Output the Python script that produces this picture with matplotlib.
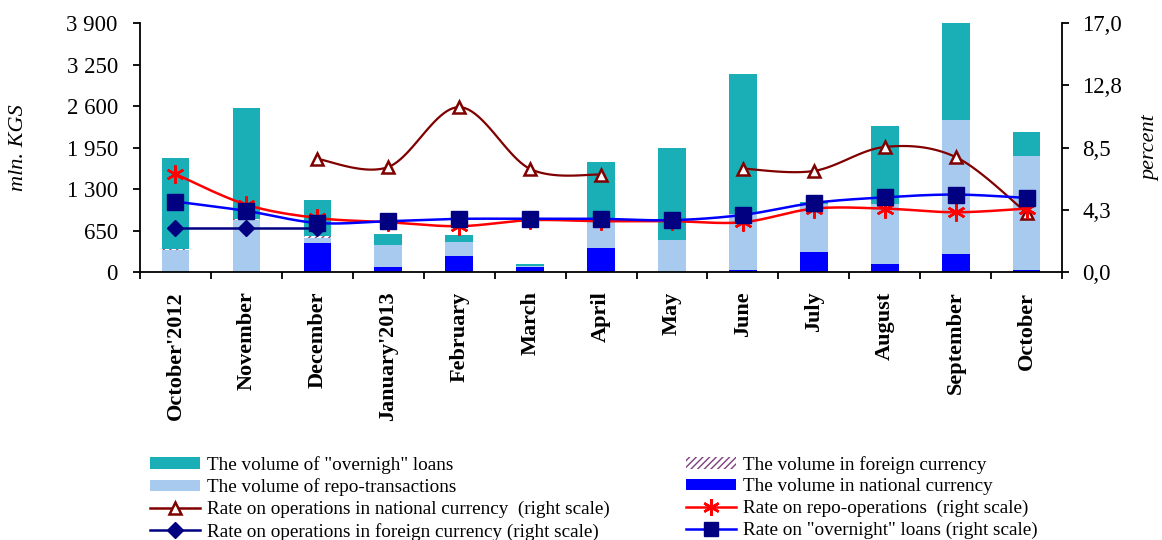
import numpy as np
import matplotlib
matplotlib.use("Agg")
from matplotlib import pyplot as plt
from matplotlib.patches import Patch
from matplotlib.lines import Line2D

plt.rcParams["font.family"] = "Liberation Serif"

months = ["October'2012", "November", "December", "January'2013", "February",
          "March", "April", "May", "June", "July", "August", "September", "October"]

# volumes, mln. KGS (stack segments)
vol_national = [0, 0, 455, 85, 260, 75, 385, 0, 40, 320, 135, 290, 40]
vol_repo = [345, 815, 80, 340, 220, 20, 465, 510, 877, 743, 938, 2096, 1783]
vol_foreign = [25, 20, 25, 0, 0, 0, 0, 0, 0, 0, 0, 0, 0]
vol_overnight = [1420, 1740, 575, 170, 95, 40, 880, 1440, 2190, 42, 1220, 1515, 375]

# rates, percent
rate_national = [np.nan, np.nan, 7.73, 7.18, 11.27, 7.05, 6.66, np.nan, 7.07, 6.91, 8.55, 7.86, 4.05]
rate_repo = [6.70, 4.61, 3.70, 3.41, 3.14, 3.55, 3.48, 3.48, 3.41, 4.34, 4.34, 4.09, 4.34]
rate_foreign = [3.0, 3.0, 3.0, np.nan, np.nan, np.nan, np.nan, np.nan, np.nan, np.nan, np.nan, np.nan, np.nan]
rate_overnight = [4.82, 4.18, 3.36, 3.48, 3.64, 3.64, 3.64, 3.55, 3.91, 4.73, 5.11, 5.30, 5.07]

left_ticks = [0, 650, 1300, 1950, 2600, 3250, 3900]
right_ticks = [0, 4.25, 8.5, 12.75, 17.0]
right_labels = ["0,0", "4,3", "8,5", "12,8", "17,0"]

c_overnight = "#1aafb6"
c_repo = "#a8caef"
c_national = "#0000ff"
c_foreign = "#7f3f7f"
c_rnat = "#800000"
c_rrepo = "#ff0000"
c_navy = "#000080"


def smooth(xs, ys, n=24):
    # catmull-rom through the points, split at gaps
    xs = np.asarray(xs, float)
    ys = np.asarray(ys, float)
    out = []
    ok = ~np.isnan(ys)
    segs = []
    cur = []
    for i in range(len(ys)):
        if ok[i]:
            cur.append(i)
        else:
            if cur:
                segs.append(cur)
            cur = []
    if cur:
        segs.append(cur)
    for seg in segs:
        px = xs[seg]
        py = ys[seg]
        if len(seg) < 2:
            continue
        sx, sy = [], []
        for i in range(len(seg) - 1):
            p0 = (px[max(i - 1, 0)], py[max(i - 1, 0)])
            p1 = (px[i], py[i])
            p2 = (px[i + 1], py[i + 1])
            p3 = (px[min(i + 2, len(seg) - 1)], py[min(i + 2, len(seg) - 1)])
            t = np.linspace(0, 1, n)
            for k in range(2):
                a, b, c, d = p0[k], p1[k], p2[k], p3[k]
                v = 0.5 * (2 * b + (-a + c) * t + (2 * a - 5 * b + 4 * c - d) * t ** 2
                           + (-a + 3 * b - 3 * c + d) * t ** 3)
                (sx if k == 0 else sy).extend(v)
        out.append((np.array(sx), np.array(sy)))
    return out


x = np.arange(len(months))
w = 0.39

fig = plt.figure(figsize=(11.62, 5.4), dpi=100)
ax = fig.add_axes([0.1205, 0.496, 0.7935, 0.461])

b1 = np.array(vol_national, float)
b2 = b1 + np.array(vol_repo, float)
b3 = b2 + np.array(vol_foreign, float)
ax.bar(x, vol_national, w, color=c_national, zorder=2)
ax.bar(x, vol_repo, w, bottom=b1, color=c_repo, zorder=2)
ax.bar(x, vol_foreign, w, bottom=b2, color="white", edgecolor=c_foreign,
       hatch="/////", linewidth=0, zorder=2)
ax.bar(x, vol_overnight, w, bottom=b3, color=c_overnight, zorder=2)

ax.set_xlim(-0.5, len(months) - 0.5)
ax.set_ylim(0, 3900)
ax.set_yticks(left_ticks)
ax.set_yticklabels([f"{v:,}".replace(",", " ") for v in left_ticks], fontsize=16.5)
ax.set_xticks(x)
ax.set_xticklabels(months, rotation=90, fontsize=16, fontweight="bold")
ax.tick_params(axis="x", which="major", length=0, pad=14)
ax.set_xticks(np.arange(-0.5, len(months), 1.0), minor=True)
ax.tick_params(axis="x", which="minor", length=5, width=1.3, direction="out")
ax.tick_params(axis="y", length=5, width=1.3, direction="out", pad=11)
ax.spines["top"].set_visible(False)
ax.spines["right"].set_visible(False)
for s in ["left", "bottom"]:
    ax.spines[s].set_linewidth(1.3)
ax.set_ylabel("mln. KGS", fontsize=16, style="italic")
ax.yaxis.set_label_coords(-0.1215, 0.5)

ax2 = ax.twinx()
ax2.set_ylim(0, 17)
ax2.set_yticks(right_ticks)
ax2.set_yticklabels(right_labels, fontsize=16.5)
ax2.tick_params(axis="y", length=5, width=1.3, direction="out", pad=9.5)
ax2.spines["top"].set_visible(False)
ax2.spines["right"].set_linewidth(1.3)
ax2.spines["left"].set_visible(False)
ax2.spines["bottom"].set_visible(False)
ax2.set_ylabel("percent", fontsize=16, style="italic")
ax2.yaxis.set_label_coords(1.086, 0.5)

for sx, sy in smooth(x, rate_national):
    ax2.plot(sx, sy, color=c_rnat, lw=1.6, zorder=3)
ax2.plot(x, rate_national, ls="none", marker="^", ms=9, mfc="white", mec=c_rnat,
         mew=1.8, zorder=4)

for sx, sy in smooth(x, rate_repo):
    ax2.plot(sx, sy, color=c_rrepo, lw=1.8, zorder=3)
ax2.plot(x, rate_repo, ls="none", marker=(6, 2, 0), ms=13, mec=c_rrepo, mew=1.8, zorder=4)

ax2.plot(x, rate_foreign, color=c_navy, lw=1.8, marker="D", ms=8, mfc=c_navy, mec=c_navy,
         zorder=5)

for sx, sy in smooth(x, rate_overnight):
    ax2.plot(sx, sy, color=c_national, lw=1.8, zorder=5)
ax2.plot(x, rate_overnight, ls="none", marker="s", ms=11, mfc=c_navy, mec=c_navy, zorder=6)

h_overnight = Patch(facecolor=c_overnight)
h_repo = Patch(facecolor=c_repo)
h_foreign = Patch(facecolor="white", edgecolor=c_foreign, hatch="/////", linewidth=0)
h_national = Patch(facecolor=c_national)
h_rnat = Line2D([], [], color=c_rnat, lw=1.8, marker="^", ms=9, mfc="white", mec=c_rnat, mew=1.8)
h_rrepo = Line2D([], [], color=c_rrepo, lw=1.8, marker=(6, 2, 0), ms=12, mec=c_rrepo, mew=1.8)
h_rfor = Line2D([], [], color=c_navy, lw=1.8, marker="D", ms=8, mfc=c_navy, mec=c_navy)
h_rov = Line2D([], [], color=c_national, lw=1.8, marker="s", ms=10, mfc=c_navy, mec=c_navy)

leg_kw = dict(frameon=False, fontsize=13.75, handlelength=2.6, handleheight=0.55,
              labelspacing=0.24, handletextpad=0.4, borderaxespad=0, borderpad=0)
fig.legend([h_overnight, h_repo, h_rnat, h_rfor],
           ['The volume of "overnigh" loans', "The volume of repo-transactions",
            "Rate on operations in national currency  (right scale)",
            "Rate on operations in foreign currency (right scale)"],
           loc="upper left", bbox_to_anchor=(150 / 1162, 1 - 456 / 540), **leg_kw)
fig.legend([h_foreign, h_national, h_rrepo, h_rov],
           ["The volume in foreign currency", "The volume in national currency",
            "Rate on repo-operations  (right scale)",
            'Rate on "overnight" loans (right scale)'],
           loc="upper left", bbox_to_anchor=(686 / 1162, 1 - 456 / 540), **leg_kw)

fig.savefig("out.png", dpi=100)
